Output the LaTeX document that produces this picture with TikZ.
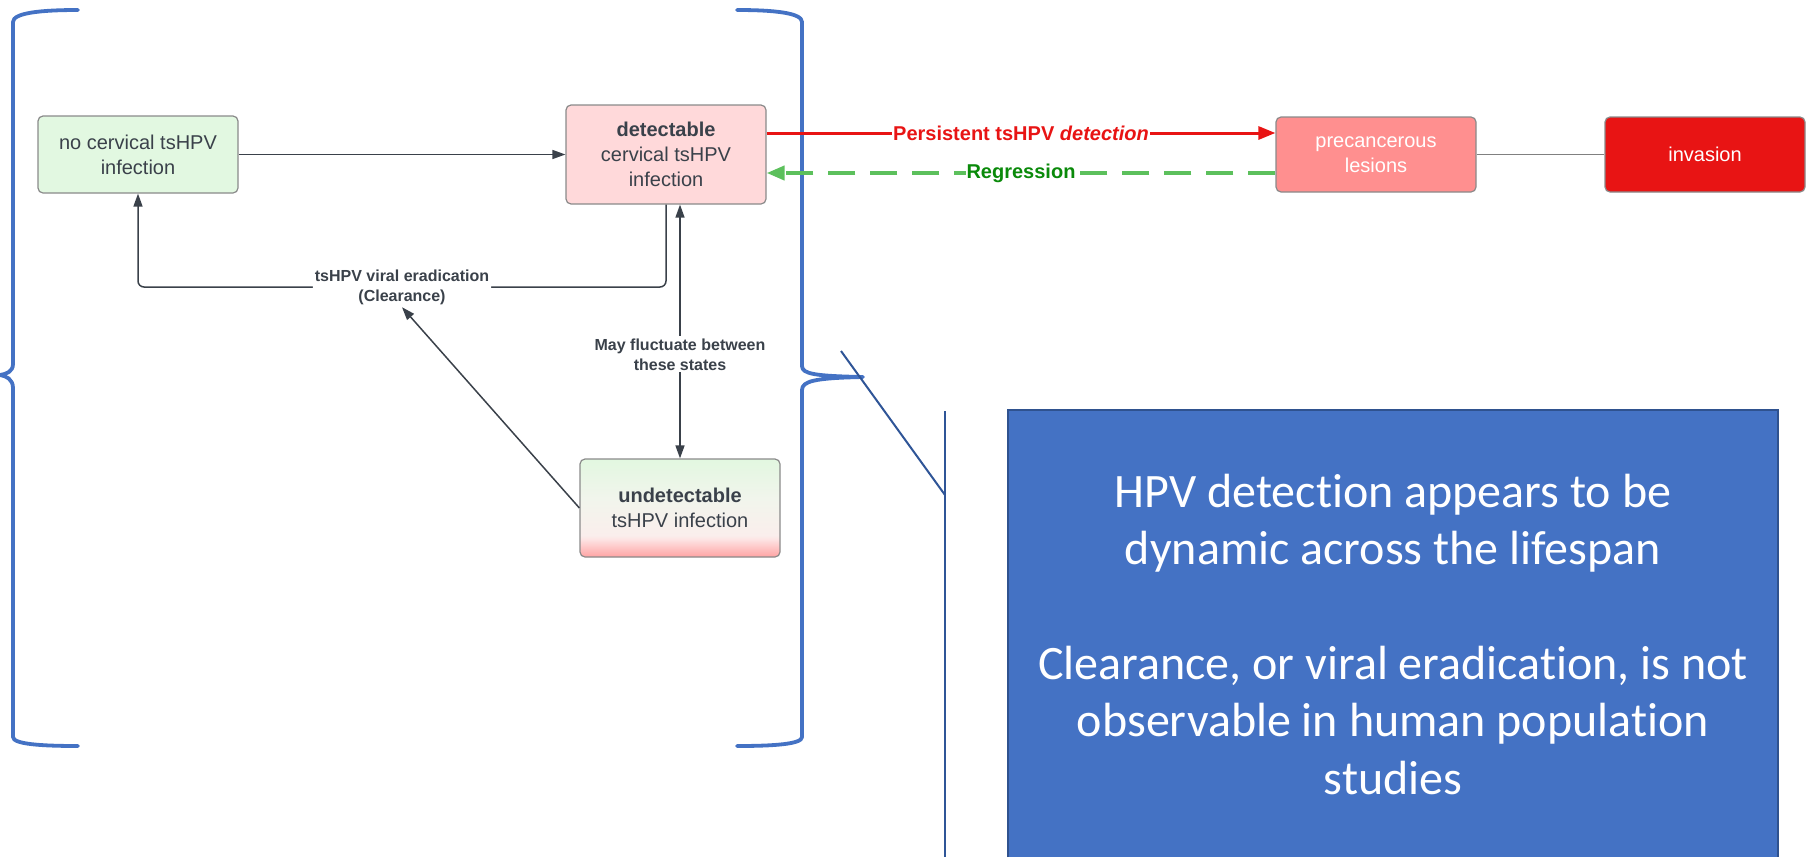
\documentclass[tikz,border=0pt]{standalone}
\usepackage{fontspec}
\setmainfont{Liberation Sans}
\newfontfamily\calib[Ligatures=NoCommon]{Carlito}
\usetikzlibrary{arrows.meta,calc}

\definecolor{txtgray}{HTML}{3A414A}
\definecolor{boxborder}{HTML}{8A8A8A}
\definecolor{greenfill}{HTML}{E2F8E1}
\definecolor{pinkfill}{HTML}{FFD9DA}
\definecolor{precfill}{HTML}{FF8F8F}
\definecolor{invfill}{HTML}{E81414}
\definecolor{redline}{HTML}{E81414}
\definecolor{greenline}{HTML}{5CC05C}
\definecolor{greentext}{HTML}{0A8A0A}
\definecolor{bracecol}{HTML}{4472C4}
\definecolor{calloutcol}{HTML}{2F5597}
\definecolor{boxblue}{HTML}{4472C4}
\definecolor{boxblueedge}{HTML}{2F528F}
\definecolor{ubotA}{HTML}{FFA3A3}
\definecolor{ubotB}{HTML}{FDE3E3}
\definecolor{umid}{HTML}{FAEEEC}
\definecolor{umidB}{HTML}{F1F5EC}
\definecolor{utop}{HTML}{E2F7E0}

\pgfdeclareverticalshading{undetshade}{100bp}{color(0bp)=(ubotA); color(25bp)=(ubotA); color(34bp)=(ubotB); color(36bp)=(umid); color(55bp)=(umidB); color(75bp)=(utop); color(100bp)=(utop)}

\tikzset{
  state/.style={draw=boxborder, line width=1.2, rounded corners=5, minimum width=200,
    align=center, text=txtgray, font=\fontsize{20}{25}\selectfont, inner sep=0},
  conn/.style={draw=txtgray, line width=1.5, -{Triangle[length=13,width=9]}},
  dblconn/.style={draw=txtgray, line width=1.5, {Triangle[length=13,width=9]}-{Triangle[length=13,width=9]}},
  elabel/.style={fill=white, text=txtgray, font=\bfseries\fontsize{16}{20}\selectfont, align=center, inner sep=2},
  redarrow/.style={draw=redline, line width=3, -{Triangle[length=17,width=13]}},
  greenarrow/.style={draw=greenline, line width=4, dash pattern=on 27 off 15, -{Triangle[length=18,width=14]}},
  rlabel/.style={fill=white, text=redline, font=\bfseries\fontsize{20}{24}\selectfont, inner sep=1},
  glabel/.style={fill=white, text=greentext, font=\bfseries\fontsize{20}{24}\selectfont, inner sep=1},
  bracestyle/.style={draw=bracecol, line width=3.8, line join=round, line cap=round},
  calloutline/.style={draw=calloutcol, line width=2},
}

\begin{document}
\begin{tikzpicture}[x=1pt,y=-1pt]
\useasboundingbox (0,0) rectangle (1814,857);

% braces
\draw[bracestyle] (78,10) .. controls (40,10) and (13,13) .. (13,22) -- (13,364)
  .. controls (13,372) and (6,374) .. (0,375)
  .. controls (6,376) and (13,379) .. (13,388) -- (13,737)
  .. controls (13,744) and (40,746) .. (78,746);
\draw[bracestyle] (737,10) .. controls (775,10) and (802,13) .. (802,22) -- (802,366)
  .. controls (802,374) and (815,376) .. (863,377)
  .. controls (815,378) and (802,381) .. (802,390) -- (802,737)
  .. controls (802,744) and (775,746) .. (737,746);

% callout
\draw[calloutline] (841,351) -- (945,495);
\draw[calloutline] (945,411) -- (945,857);
\fill[boxblue] (1008,410) rectangle (1778,857);
\draw[boxblueedge, line width=1.5] (1008,857) -- (1008,410) -- (1778,410) -- (1778,857);
\node[anchor=base, align=center, text=white, inner sep=0,
      font=\calib\fontsize{48}{57.4}\selectfont] (note) at (1393,794)
  {HPV detection appears to be\\dynamic across the lifespan\\[57.4pt]Clearance, or viral eradication, is not\\observable in human population\\studies};

% state nodes
\node[state, fill=greenfill, minimum height=77] (nocerv) at (138,154.5) {no cervical tsHPV\\infection};
\node[state, fill=pinkfill, minimum height=99] (det) at (666,154.5) {\textbf{detectable}\\cervical tsHPV\\infection};
\node[state, shading=undetshade, minimum height=98] (undet) at (680,508) {\textbf{undetectable}\\tsHPV infection};
\node[state, fill=precfill, text=white, minimum height=75] (prec) at (1376,154.5) {precancerous\\lesions};
\node[state, fill=invfill, text=white, minimum height=75] (inv) at (1705,154.5) {invasion};

% connectors
\coordinate (clY) at (0,287);
\coordinate (rY) at (0,133);
\coordinate (gY) at (0,173);

\draw[conn] (nocerv) -- (det);
\draw[conn, rounded corners=6] (det.south) -- (det.south |- clY)
  -- node[elabel] (cllab) {tsHPV viral eradication\\(Clearance)} (nocerv.south |- clY)
  -- (nocerv.south);
\draw[dblconn] (undet.north |- det.south) -- node[elabel, pos=0.59] (fluct) {May fluctuate between\\these states} (undet.north);
\draw[conn] (undet.west) -- (cllab.south);

\draw[redarrow] (det.east |- rY) -- node[rlabel] (perslab) {Persistent tsHPV \textit{detection}} (prec.west |- rY);
\draw[greenarrow] (prec.west |- gY) -- node[glabel] (reglab) {Regression} (det.east |- gY);
\draw[draw=gray, line width=1.5] (prec) -- (inv);
\end{tikzpicture}
\end{document}
